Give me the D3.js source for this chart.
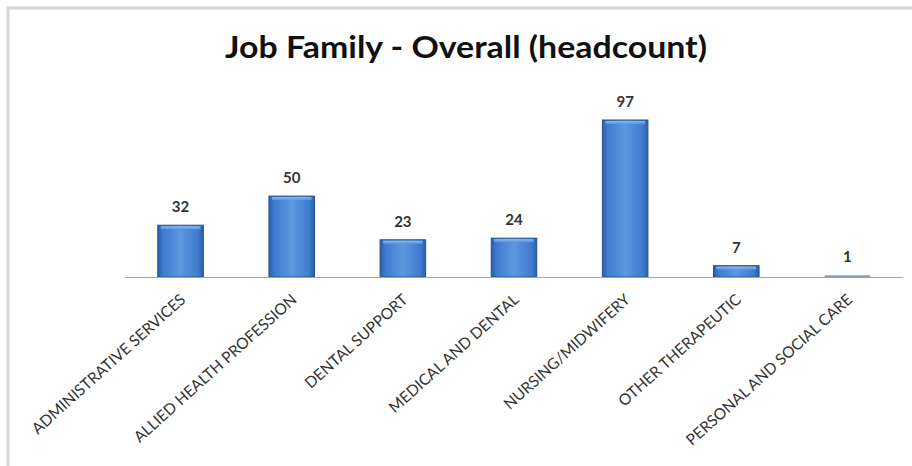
<!DOCTYPE html>
<html><head><meta charset="utf-8">
<script src="https://cdn.jsdelivr.net/npm/d3@7"></script>
<style>html,body{margin:0;padding:0;background:#fff;}svg{display:block;}</style>
</head><body>
<svg id="chart" width="912" height="466"></svg>
<script>
const title = "Job Family - Overall (headcount)";
const categories = ["ADMINISTRATIVE SERVICES","ALLIED HEALTH PROFESSION","DENTAL SUPPORT","MEDICAL AND DENTAL","NURSING/MIDWIFERY","OTHER THERAPEUTIC","PERSONAL AND SOCIAL CARE"];
const values = [32, 50, 23, 24, 97, 7, 1];

const svg = d3.select("#chart");
const W = 912, H = 466;
const font = "Lato, 'Open Sans', sans-serif";

// frame
svg.append("rect").attr("x", 8).attr("y", 8).attr("width", W + 20).attr("height", H + 20)
  .attr("fill", "#fff").attr("stroke", "#d6d6d6").attr("stroke-width", 3);

const defs = svg.append("defs");
const g1 = defs.append("linearGradient").attr("id", "barGrad").attr("x1", "0").attr("x2", "1").attr("y1", "0").attr("y2", "0");
[[0, "#2c5fa8"], [0.12, "#3f7cd0"], [0.5, "#5c97df"], [0.88, "#3f7cd0"], [1, "#2c5fa8"]]
  .forEach(([o, c]) => g1.append("stop").attr("offset", o).attr("stop-color", c));
const g2 = defs.append("linearGradient").attr("id", "topGrad").attr("x1", "0").attr("x2", "0").attr("y1", "0").attr("y2", "1");
[[0, "#9cc2f0"], [1, "#5c97df"]].forEach(([o, c]) => g2.append("stop").attr("offset", o).attr("stop-color", c));

const x = d3.scaleBand().domain(categories).range([125, 903]).paddingInner(0.59).paddingOuter(0.295);
const y = d3.scaleLinear().domain([0, 97]).range([277, 120]);

svg.append("text").attr("x", 466).attr("y", 58).attr("text-anchor", "middle")
  .attr("font-family", font).attr("font-weight", "bold").attr("font-size", 30)
  .attr("textLength", 482).attr("lengthAdjust", "spacingAndGlyphs")
  .attr("fill", "#111").text(title);

const bars = svg.append("g").selectAll("g").data(categories).join("g");
bars.append("rect")
  .attr("x", d => x(d)).attr("width", x.bandwidth())
  .attr("y", (d, i) => y(values[i])).attr("height", (d, i) => y(0) - y(values[i]))
  .attr("fill", (d, i) => values[i] < 3 ? "#7f93c0" : "url(#barGrad)")
  .attr("stroke", (d, i) => values[i] < 3 ? "none" : "#24528f").attr("stroke-width", 1);
bars.filter((d, i) => values[i] >= 3).append("rect")
  .attr("x", d => x(d) + 3).attr("width", x.bandwidth() - 6)
  .attr("y", (d, i) => y(values[i]) + 1).attr("height", 3)
  .attr("fill", "url(#topGrad)").attr("opacity", 0.8);

svg.append("g").selectAll("text").data(categories).join("text")
  .attr("x", d => x(d) + x.bandwidth() / 2)
  .attr("y", (d, i) => y(values[i]) - 13)
  .attr("text-anchor", "middle").attr("font-family", font).attr("font-weight", "bold")
  .attr("font-size", 15).attr("fill", "#333")
  .text((d, i) => values[i]);

const axis = svg.append("g").attr("transform", `translate(0,${y(0)})`)
  .call(d3.axisBottom(x).tickSize(0).tickPadding(0));
axis.select(".domain").attr("stroke", "#a6a6a6").attr("stroke-width", 1.2).attr("d", "M125,0.5H903");
axis.selectAll(".tick text")
  .attr("font-family", font).attr("font-size", 15.5).attr("fill", "#333")
  .attr("text-anchor", "end").attr("dy", 0)
  .attr("transform", "translate(6,24) rotate(-42)");
</script>
</body></html>
